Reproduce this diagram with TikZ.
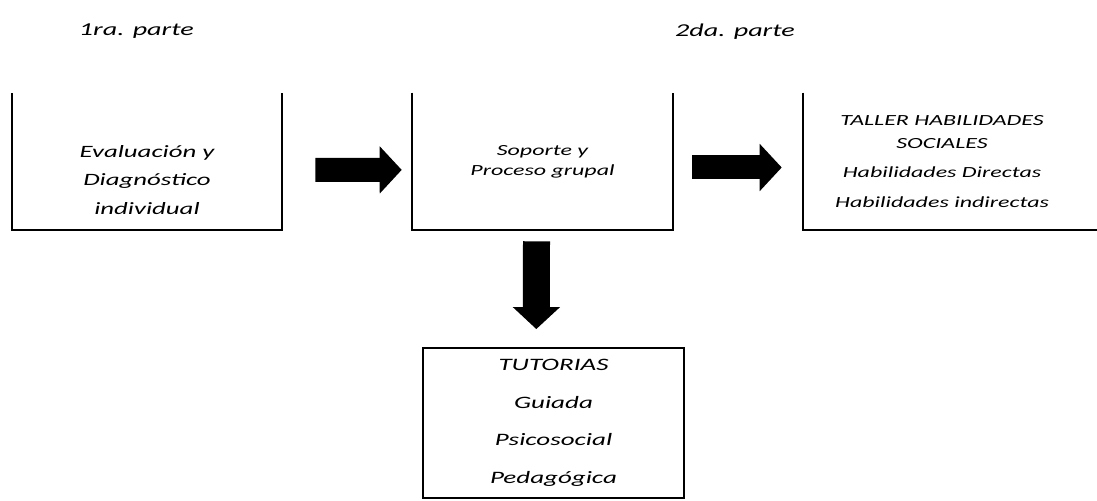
\documentclass[tikz,border=0pt]{standalone}
\usepackage{fontspec}
\setmainfont{Carlito}[FakeStretch=1.55]
\usetikzlibrary{arrows.meta}

\begin{document}
\begin{tikzpicture}[
    box/.style={inner sep=0pt, align=center, minimum height=3.425cm},
    frame/.style={line width=1.3pt},
    bigarrow/.style={line width=0.6cm, -{Triangle[length=0.55cm, width=1.15cm]}}
  ]
  \useasboundingbox (0,0) rectangle (27.425,12.5);

  % titulos
  \node[font=\fontsize{12.9}{15}\selectfont\itshape] (parte1) at (3.41,11.72) {1ra. parte};
  \node[font=\fontsize{12.9}{15}\selectfont\itshape] (parte2) at (18.375,11.72) {2da. parte};

  % cajas abiertas arriba
  \node[box, minimum width=6.75cm, minimum height=2.5cm, font=\fontsize{12.3}{20}\selectfont\itshape] (eval) at (3.675,8.0) {
    Evaluación y \\ Diagnóstico \\ individual
  };
  \draw[frame] (eval.south west) ++(0,3.425) |- (eval.south east) -- ++(0,3.425);

  \node[box, minimum width=6.525cm, font=\fontsize{11}{14}\selectfont\itshape] (soporte) at (13.5625,8.4625) {
    Soporte y \\ Proceso grupal
  };
  \draw[frame] (soporte.north west) |- (soporte.south east) -- (soporte.north east);

  \node[box, minimum width=6.95cm, font=\fontsize{11}{16}\selectfont\itshape] (taller) at (23.55,8.4625) {
    TALLER HABILIDADES \\ SOCIALES \\[5pt]
    Habilidades Directas \\[5pt]
    Habilidades indirectas
  };
  \draw[frame] (taller.north west) |- (27.425,6.75);

  \node[box, draw, frame, minimum width=6.525cm, minimum height=3.75cm, font=\fontsize{12.4}{26.7}\selectfont\itshape] (tutorias) at (13.8375,1.925) {
    TUTORIAS \\ Guiada \\ Psicosocial \\ Pedagógica
  };

  % flechas
  \draw[bigarrow] ([shift={(0.825,0.25)}]eval.east) -- ([shift={(-0.25,-0.21)}]soporte.west);
  \draw[bigarrow] ([shift={(0.475,-0.15)}]soporte.east) -- ([shift={(-0.525,-0.15)}]taller.west);
  \draw[bigarrow, line width=0.675cm] ([shift={(-0.15,-0.275)}]soporte.south) -- ([shift={(-0.43,0.45)}]tutorias.north);
\end{tikzpicture}
\end{document}
